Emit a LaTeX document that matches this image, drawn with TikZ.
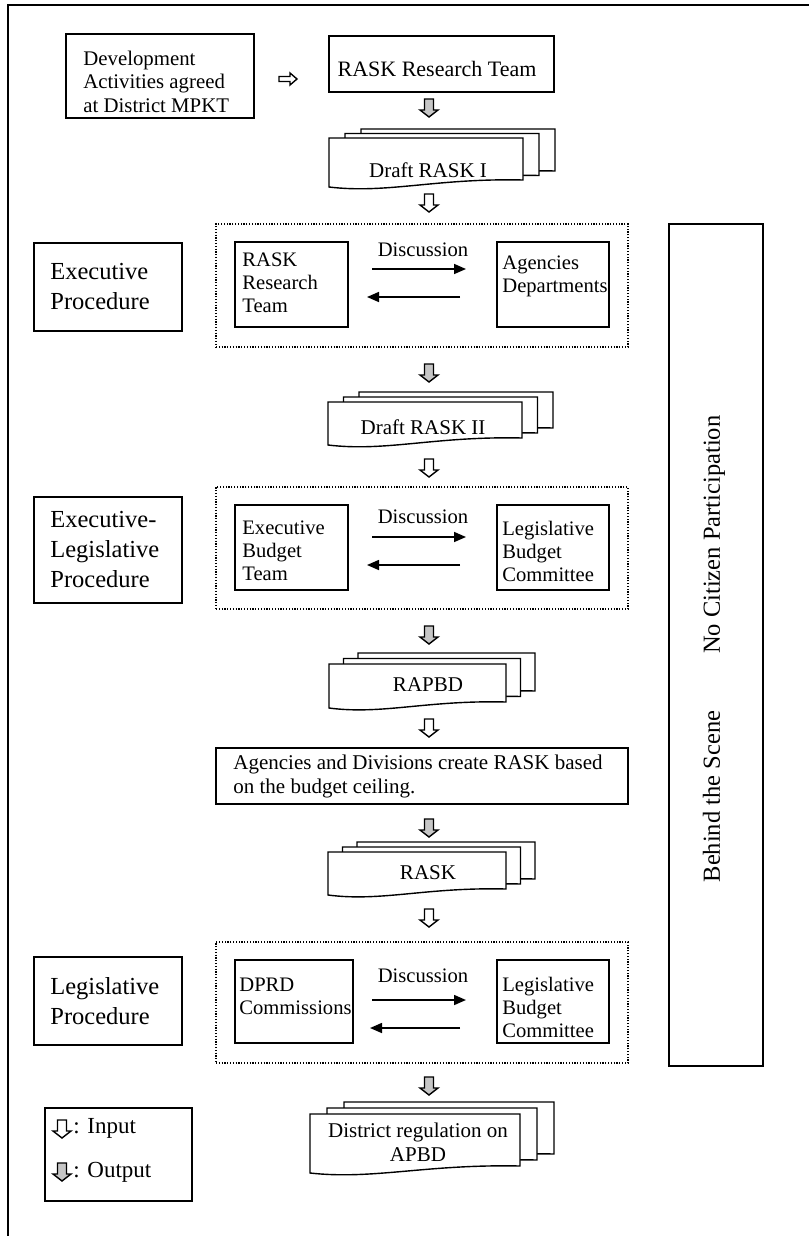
\documentclass[tikz,border=0pt]{standalone}
\usepackage{fontspec}
\setmainfont{Liberation Serif}
\usetikzlibrary{arrows.meta,calc,fit}
\newcommand\mydoc[5]{%
  \filldraw[docline] ({#1},{#3}) -- ({#2},{#3}) -- ({#2},{#5})
   .. controls ({(#2)-0.45*((#2)-(#1))},{(#5)-2}) and ({(#1)+0.3*((#2)-(#1))},{(#4)+7}) .. ({#1},{#4}) -- cycle;}
\newcommand\mystack[7]{%
  \mydoc{(#1)+2*(#6)}{(#2)+2*(#6)}{(#3)-2*(#7)}{(#4)-2*(#7)}{(#5)-2*(#7)}%
  \mydoc{(#1)+(#6)}{(#2)+(#6)}{(#3)-(#7)}{(#4)-(#7)}{(#5)-(#7)}%
  \mydoc{#1}{#2}{#3}{#4}{#5}}
\begin{document}
\begin{tikzpicture}[x=0.5pt,y=-0.5pt,
  box/.style={draw,line width=0.8pt,inner sep=0pt},
  thickbox/.style={draw,line width=1.2pt,inner sep=0pt},
  dotbox/.style={draw,line width=0.6pt,dash pattern=on 0.6pt off 0.8pt,inner sep=0pt},
  docline/.style={draw,fill=white,line width=0.7pt},
  txt/.style={inner sep=0pt,align=left,font=\fontsize{10.3}{11.5}\selectfont},
  doctxt/.style={inner sep=0pt,align=center,font=\fontsize{10.5}{12}\selectfont},
  bigtxt/.style={inner sep=0pt,align=left,font=\fontsize{12.25}{15}\selectfont},
  disc/.style={line width=0.8pt,-{Triangle[length=6pt,width=5pt]}},
  inarr/.pic={\draw[line width=0.7pt,fill=white] (-4.5,-9) -- (4.5,-9) -- (4.5,2) -- (9,2) -- (0,9) -- (-9,2) -- (-4.5,2) -- cycle;},
  outarr/.pic={\draw[line width=0.7pt,fill=gray!45] (-4.5,-9) -- (4.5,-9) -- (4.5,2) -- (9,2) -- (0,9) -- (-9,2) -- (-4.5,2) -- cycle;},
  rightarr/.pic={\draw[line width=0.7pt,fill=white] (-9,-2.5) -- (2,-2.5) -- (2,-6) -- (9,0) -- (2,6) -- (2,2.5) -- (-9,2.5) -- cycle;},
]
\useasboundingbox (0,0) rectangle (809,1236);
% outer frame (top and left only)
\coordinate (fbl) at (8,1236); \coordinate (ftl) at (8,5); \coordinate (ftr) at (809,5);
\draw[line width=1.3pt] (fbl) -- (ftl) -- (ftr);

% top row
\node[box,fit={(66,34)(254,118)}] (dev) {};
\node[txt,font=\fontsize{10.4}{11.75}\selectfont,anchor=west] (devt) at (83,81.5) {Development\\Activities agreed\\at District MPKT};
\pic (ra) at (288,79) {rightarr};
\node[box,fit={(329,36)(554,92)}] (rrt) {};
\node[txt,font=\fontsize{11}{13}\selectfont] (rrtt) at (437,69) {RASK Research Team};
\pic (o1) at (429,108) {outarr};
\mystack{329}{523}{138}{187}{180}{16}{4.5}
\node[doctxt] (d1) at (428,170) {Draft RASK I};
\pic (i1) at (429,203) {inarr};

% executive procedure
\node[dotbox,fit={(216,224)(628,347)}] (c1) {};
\node[thickbox,fit={(34,243)(182,331)}] (l1) {};
\node[bigtxt,anchor=west] (l1t) at (50,287) {Executive\\Procedure};
\node[box,fit={(235,242)(348,327)}] (c1a) {};
\node[txt,anchor=west] (c1at) at (242,283) {RASK\\Research\\Team};
\node[box,fit={(497,242)(609,327)}] (c1b) {};
\node[txt,anchor=west] (c1bt) at (502,276) {Agencies\\Departments};
\node[txt] (c1d) at (423,250) {Discussion};
\coordinate (c1r1) at (372,269); \coordinate (c1r2) at (466,269);
\coordinate (c1l1) at (460,297); \coordinate (c1l2) at (367,297);
\draw[disc] (c1r1) -- (c1r2);
\draw[disc] (c1l1) -- (c1l2);
\pic (o2) at (429,373) {outarr};
\mystack{328}{522}{402}{445}{438}{15.5}{5}
\node[doctxt] (d2) at (423,427) {Draft RASK II};
\pic (i2) at (429,468) {inarr};

% executive-legislative procedure
\node[dotbox,fit={(216,487)(628,609)}] (c2) {};
\node[thickbox,fit={(34,497)(182,603)}] (l2) {};
\node[bigtxt,anchor=west] (l2t) at (50,550) {Executive-\\Legislative\\Procedure};
\node[box,fit={(235,505)(348,590)}] (c2a) {};
\node[txt,anchor=west] (c2at) at (242,551) {Executive\\Budget\\Team};
\node[box,fit={(497,505)(609,590)}] (c2b) {};
\node[txt,anchor=west] (c2bt) at (502,551) {Legislative\\Budget\\Committee};
\node[txt] (c2d) at (423,517) {Discussion};
\coordinate (c2r1) at (372,537); \coordinate (c2r2) at (466,537);
\coordinate (c2l1) at (460,565); \coordinate (c2l2) at (367,565);
\draw[disc] (c2r1) -- (c2r2);
\draw[disc] (c2l1) -- (c2l2);
\pic (o3) at (429,635) {outarr};
\mystack{329}{506}{664}{708}{702}{14.5}{5.5}
\node[doctxt] (d3) at (428,685) {RAPBD};
\pic (i3) at (429,728) {inarr};

% agencies and divisions
\node[box,fit={(216,748)(628,804)}] (ad) {};
\node[txt,font=\fontsize{10.5}{12}\selectfont,anchor=west] (adt) at (233,776) {Agencies and Divisions create RASK based\\on the budget ceiling.};
\pic (o4) at (429,828) {outarr};
\mystack{328}{506}{852}{895}{889}{14.5}{5}
\node[doctxt] (d4) at (428,873) {RASK};
\pic (i4) at (429,918) {inarr};

% legislative procedure
\node[dotbox,fit={(216,942)(628,1063)}] (c3) {};
\node[thickbox,fit={(34,957)(182,1045)}] (l3) {};
\node[bigtxt,anchor=west] (l3t) at (50,1001) {Legislative\\Procedure};
\node[box,fit={(235,960)(353,1043)}] (c3a) {};
\node[txt,anchor=west] (c3at) at (239,996) {DPRD\\Commissions};
\node[box,fit={(497,960)(609,1043)}] (c3b) {};
\node[txt,anchor=west] (c3bt) at (502,1007) {Legislative\\Budget\\Committee};
\node[txt] (c3d) at (423,976) {Discussion};
\coordinate (c3r1) at (372,1000); \coordinate (c3r2) at (466,1000);
\coordinate (c3l1) at (460,1028); \coordinate (c3l2) at (370,1028);
\draw[disc] (c3r1) -- (c3r2);
\draw[disc] (c3l1) -- (c3l2);
\pic (o5) at (429,1086) {outarr};
\mystack{310}{520}{1114}{1173}{1166}{17}{6}
\node[doctxt] (d5) at (418,1142) {District regulation on\\APBD};

% right side box
\node[thickbox,fit={(669,224)(763,1066)}] (rb) {};
\node[rotate=90,inner sep=0pt,font=\fontsize{12.25}{14}\selectfont] (rbt) at (714,649) {Behind the Scene\hspace{28.5pt}No Citizen Participation};

% legend
\node[box,fit={(45,1108)(192,1201)}] (leg) {};
\pic (li) at (62,1129) {inarr};
\node[txt,font=\fontsize{11.5}{13}\selectfont,anchor=west] (legi) at (73,1128) {: Input};
\pic (lo) at (62,1172) {outarr};
\node[txt,font=\fontsize{11.5}{13}\selectfont,anchor=west] (lego) at (73,1172) {: Output};
\end{tikzpicture}
\end{document}
